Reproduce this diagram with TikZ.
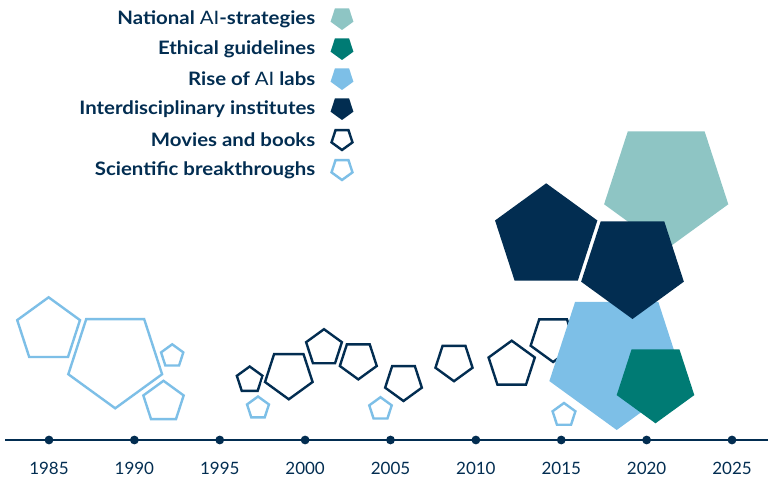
\documentclass[tikz,border=0pt]{standalone}
\usepackage{fontspec}
\setmainfont{Lato}
\newfontfamily\legfont[FakeStretch=1.1]{Lato}
\usetikzlibrary{shapes.geometric}
\definecolor{navy}{HTML}{022D51}
\definecolor{teal}{HTML}{007B74}
\definecolor{paleteal}{HTML}{8EC5C4}
\definecolor{skyblue}{HTML}{7DBFE7}
\tikzset{
  pent/.style={regular polygon, regular polygon sides=5, inner sep=0pt, minimum size=#1*1.5pt},
  flip/.style={shape border rotate=180},
  sci/.style={draw=skyblue, line width=1.8pt, preaction={draw=white, line width=4.6pt}},
  movie/.style={draw=navy, line width=1.8pt, preaction={draw=white, line width=4.6pt}},
  inst/.style={fill=navy},
  labs/.style={fill=skyblue},
  ethic/.style={fill=teal},
  strat/.style={fill=paleteal},
  lbl/.style={anchor=east, text=navy, font=\fontsize{13.9}{16}\legfont\bfseries},
  tick/.style={circle, fill=navy, inner sep=0pt, minimum size=6.6pt},
  yr/.style={text=navy}
}
\begin{document}
\begin{tikzpicture}[x=0.75pt, y=-0.75pt, font=\fontsize{12.75}{15}\selectfont]
        \useasboundingbox (0,0) rectangle (768,481);
        % legend
        \node[lbl] at (320, 19) (natT) {National {\mdseries AI}-strategies};
        \node[lbl] at (320, 49) (ethT) {Ethical guidelines};
        \node[lbl] at (320, 79) (labT) {Rise of {\mdseries AI} labs};
        \node[lbl] at (320,109) (insT) {Interdisciplinary institutes};
        \node[lbl] at (320,140) (movT) {Movies and books};
        \node[lbl] at (320,170) (sciT) {Scientific breakthroughs};
        \node[pent=12, flip, strat] at (342, 18) (natP) {};
        \node[pent=12, flip, ethic] at (342, 48) (ethP) {};
        \node[pent=12, flip, labs]  at (342, 78) (labP) {};
        \node[pent=12, flip, inst]  at (342,108) (insP) {};
        \node[pent=11, flip, movie] at (342,139) (movP) {};
        \node[pent=11, flip, sci]   at (342,169) (sciP) {};
        % axis
        \coordinate (axL) at (5,440);
        \coordinate (axR) at (768,440);
        \draw[navy, line width=1.1pt] (axL) -- (axR);
        \foreach \y [count=\i from 0] in {1985,1990,...,2025} {
          \node[tick] at (49+85.375*\i,440) (t\y) {};
          \node[yr] at (49+85.375*\i,468) (l\y) {\y};
        }
        % scientific breakthroughs
        \node[pent=33,   sci]       at ( 48.6,330.3) (sA) {};
        \node[pent=49.3, flip, sci] at (115.2,359)   (sB) {};
        \node[pent=11.7, sci]       at (172.2,356)   (sC) {};
        \node[pent=21.2, sci]       at (163.5,402)   (sD) {};
        \node[pent=11.5, sci]       at (258,  408)   (sE) {};
        \node[pent=11.8, sci]       at (380.5,409)   (sF) {};
        \node[pent=12,   sci]       at (564,  415)   (sG) {};
        % movies and books
        \node[pent=13.5, movie]       at (249.7,380)   (mA) {};
        \node[pent=25,   flip, movie] at (288.8,374.3) (mB) {};
        \node[pent=18.8, movie]       at (324,  348)   (mC) {};
        \node[pent=19.4, flip, movie] at (358.3,360)   (mD) {};
        \node[pent=19.3, flip, movie] at (403.5,381.7) (mE) {};
        \node[pent=19.5, flip, movie] at (454,  361.7) (mF) {};
        \node[pent=23.6, flip, movie] at (553.1,338.4) (mH) {};
        \node[pent=24.3, movie]       at (511.7,365)   (mG) {};
        % filled ones
        \node[pent=65.3, flip, strat] at (666.2,184.1) (nat) {};
        \node[pent=70.8, flip, labs]  at (616.7,359.2) (lab) {};
        \node[pent=53.8, inst]        at (546.2,237.1) (insA) {};
        \node[pent=54,   flip, inst]  at (632.5,265)   (insB) {};
        \node[pent=40.8, flip, ethic] at (655.5,382.5) (eth) {};
      \end{tikzpicture}
\end{document}
